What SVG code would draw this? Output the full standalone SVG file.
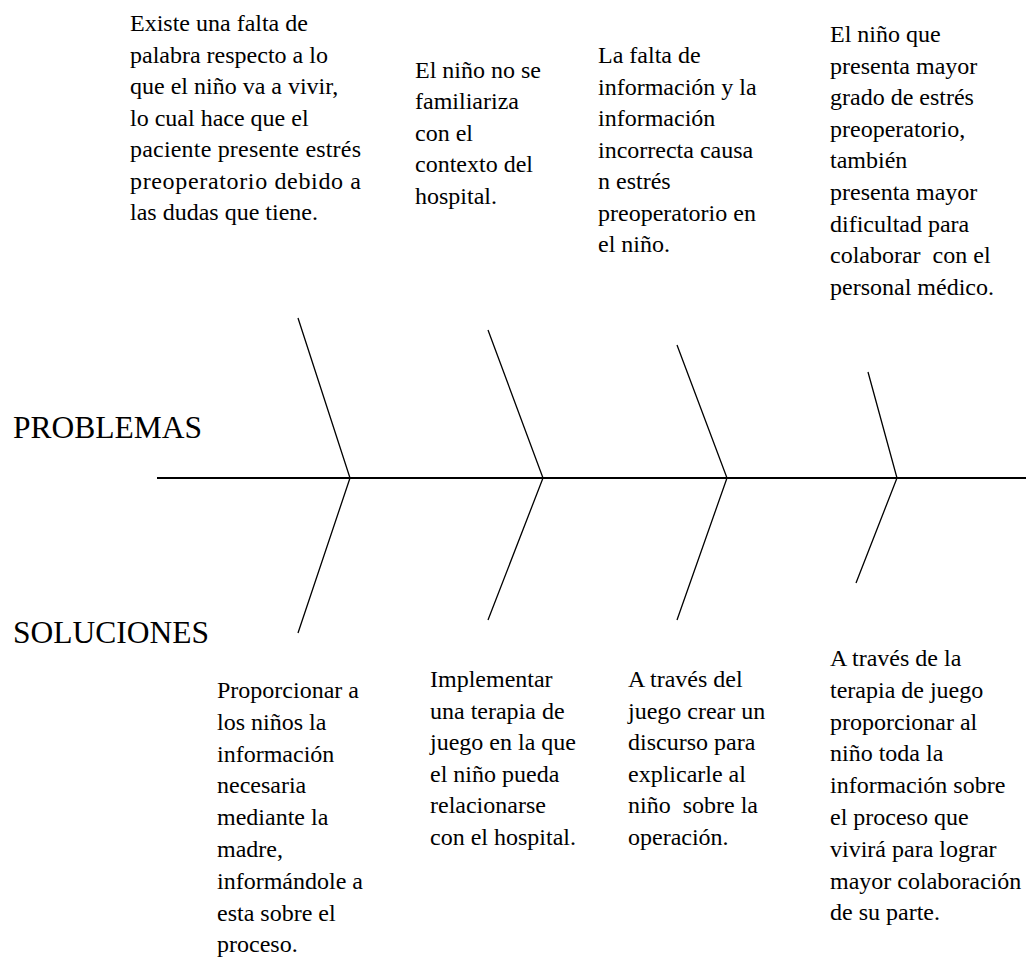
<svg xmlns="http://www.w3.org/2000/svg" width="1026" height="958" viewBox="0 0 1026 958">
<style>
.t{font-family:"Liberation Serif","Times New Roman",serif;font-size:24px;fill:#000}
.h{font-family:"Liberation Serif","Times New Roman",serif;font-size:31.5px;fill:#000}
.spine{stroke:#000;stroke-width:2;fill:none}
.bone{stroke:#000;stroke-width:1.3;fill:none}
</style>
<rect width="1026" height="958" fill="#fff"/>
<g id="connectors">
<line class="spine" x1="157" y1="478" x2="1026" y2="478"/>
<polyline class="bone" points="298,318 350,478 298,633"/>
<polyline class="bone" points="488,330 543,478 488,620"/>
<polyline class="bone" points="677,345 727,478 677,620"/>
<polyline class="bone" points="868,372 897,478 856,583"/>
</g>
<g id="label-problemas"><text class="h" x="13" y="438">PROBLEMAS</text></g>
<g id="label-soluciones"><text class="h" x="13" y="643">SOLUCIONES</text></g>
<g id="problem-1"><text class="t">
<tspan x="130" y="31">Existe una falta de</tspan>
<tspan x="130" y="62.5">palabra respecto a lo</tspan>
<tspan x="130" y="94">que el niño va a vivir,</tspan>
<tspan x="130" y="125.5">lo cual hace que el</tspan>
<tspan x="130" y="157" textLength="231" lengthAdjust="spacing">paciente presente estrés</tspan>
<tspan x="130" y="188.5" textLength="231" lengthAdjust="spacing">preoperatorio debido a</tspan>
<tspan x="130" y="220">las dudas que tiene.</tspan>
</text></g>
<g id="problem-2"><text class="t">
<tspan x="415" y="77.5">El niño no se</tspan>
<tspan x="415" y="109">familiariza</tspan>
<tspan x="415" y="140.5">con el</tspan>
<tspan x="415" y="172">contexto del</tspan>
<tspan x="415" y="203.5">hospital.</tspan>
</text></g>
<g id="problem-3"><text class="t">
<tspan x="598" y="63">La falta de</tspan>
<tspan x="598" y="94.5">información y la</tspan>
<tspan x="598" y="126">información</tspan>
<tspan x="598" y="157.5">incorrecta causa</tspan>
<tspan x="598" y="189">n estrés</tspan>
<tspan x="598" y="220.5">preoperatorio en</tspan>
<tspan x="598" y="252">el niño.</tspan>
</text></g>
<g id="problem-4"><text class="t">
<tspan x="830" y="42">El niño que</tspan>
<tspan x="830" y="73.6">presenta mayor</tspan>
<tspan x="830" y="105.2">grado de estrés</tspan>
<tspan x="830" y="136.8">preoperatorio,</tspan>
<tspan x="830" y="168.4">también</tspan>
<tspan x="830" y="200">presenta mayor</tspan>
<tspan x="830" y="231.6">dificultad para</tspan>
<tspan x="830" y="263.2">colaborar&#160; con el</tspan>
<tspan x="830" y="294.8">personal médico.</tspan>
</text></g>
<g id="solution-1"><text class="t">
<tspan x="217" y="698">Proporcionar a</tspan>
<tspan x="217" y="729.8">los niños la</tspan>
<tspan x="217" y="761.6">información</tspan>
<tspan x="217" y="793.4">necesaria</tspan>
<tspan x="217" y="825.2">mediante la</tspan>
<tspan x="217" y="857">madre,</tspan>
<tspan x="217" y="888.8">informándole a</tspan>
<tspan x="217" y="920.6">esta sobre el</tspan>
<tspan x="217" y="952.4">proceso.</tspan>
</text></g>
<g id="solution-2"><text class="t">
<tspan x="430" y="687">Implementar</tspan>
<tspan x="430" y="718.5">una terapia de</tspan>
<tspan x="430" y="750">juego en la que</tspan>
<tspan x="430" y="781.5">el niño pueda</tspan>
<tspan x="430" y="813">relacionarse</tspan>
<tspan x="430" y="844.5">con el hospital.</tspan>
</text></g>
<g id="solution-3"><text class="t">
<tspan x="628" y="687">A través del</tspan>
<tspan x="628" y="718.5">juego crear un</tspan>
<tspan x="628" y="750">discurso para</tspan>
<tspan x="628" y="781.5">explicarle al</tspan>
<tspan x="628" y="813">niño&#160; sobre la</tspan>
<tspan x="628" y="844.5">operación.</tspan>
</text></g>
<g id="solution-4"><text class="t">
<tspan x="830" y="666">A través de la</tspan>
<tspan x="830" y="697.8">terapia de juego</tspan>
<tspan x="830" y="729.6">proporcionar al</tspan>
<tspan x="830" y="761.4">niño toda la</tspan>
<tspan x="830" y="793.2">información sobre</tspan>
<tspan x="830" y="825">el proceso que</tspan>
<tspan x="830" y="856.8">vivirá para lograr</tspan>
<tspan x="830" y="888.6">mayor colaboración</tspan>
<tspan x="830" y="920.4">de su parte.</tspan>
</text></g>
</svg>
